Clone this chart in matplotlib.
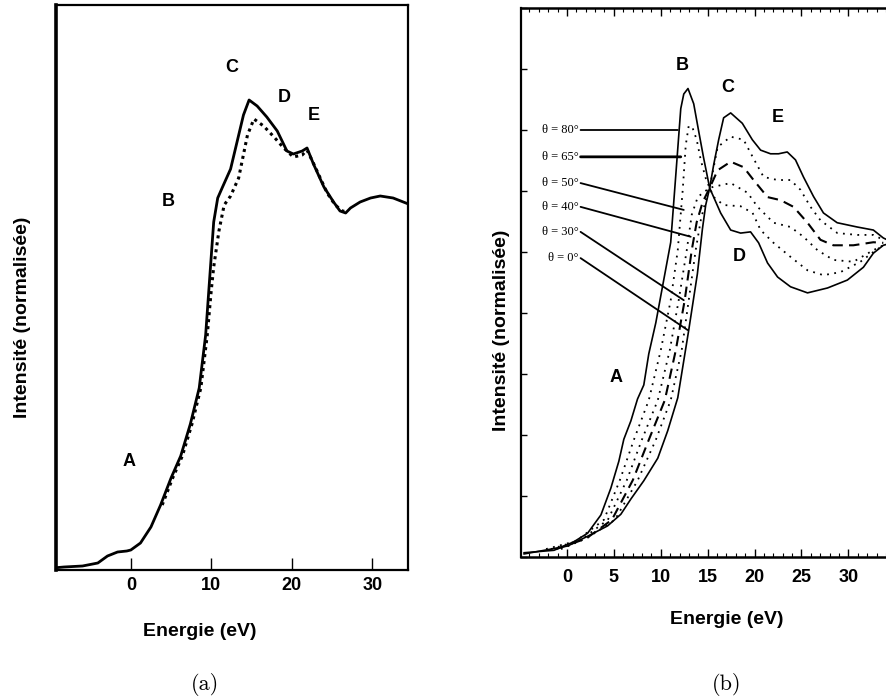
import matplotlib.pyplot as plt
from matplotlib.ticker import MultipleLocator

# ---- data ----
# panel (a): two spectra (solid and dotted), energy in eV, intensity in arbitrary units
a_solid_e = [-9.0, -8.3, -6.0, -4.1, -2.9, -1.65, -0.5, 0.0, 1.2, 2.5, 3.7, 5.0, 6.2, 7.4,
             8.5, 9.3, 9.9, 10.3, 10.8, 11.4, 12.4, 13.2, 14.0, 14.7, 15.7, 16.9, 18.2,
             19.4, 20.2, 21.3, 21.9, 22.7, 24.0, 25.2, 26.0, 26.7, 27.3, 28.5, 29.8, 31.0,
             32.6, 34.5]
a_solid_i = [0.025, 0.03, 0.04, 0.07, 0.14, 0.18, 0.19, 0.20, 0.27, 0.43, 0.65, 0.92, 1.14,
             1.46, 1.82, 2.35, 3.03, 3.48, 3.72, 3.83, 4.01, 4.28, 4.55, 4.70, 4.64, 4.53,
             4.39, 4.19, 4.16, 4.19, 4.22, 4.06, 3.83, 3.68, 3.59, 3.57, 3.62, 3.68, 3.72,
             3.74, 3.72, 3.66]
a_dot_e = [3.9, 5.2, 6.4, 7.6, 8.7, 9.5, 10.0, 10.3, 10.95, 11.6, 12.4, 13.4, 14.5, 15.3,
           16.5, 17.8, 19.0, 20.2, 21.3, 21.9, 22.8, 24.4, 25.4, 26.3, 27.0]
a_dot_i = [0.65, 0.92, 1.14, 1.46, 1.82, 2.35, 2.80, 3.03, 3.39, 3.65, 3.74, 3.92, 4.35, 4.51,
           4.44, 4.33, 4.22, 4.13, 4.15, 4.20, 4.05, 3.77, 3.65, 3.59, 3.58]
a_ticks = [0, 10, 20, 30]
a_peaks = ['A', 'B', 'C', 'D', 'E']
a_peak_e = [-0.25, 4.6, 12.6, 19.1, 22.7]
a_peak_i = [1.09, 3.68, 5.02, 4.73, 4.55]

# panel (b): angular series theta = 80, 65, 50, 40, 30, 0 degrees
b_80_e = [-4.57, -1.38, 0.74, 2.2, 3.62, 4.68, 5.53, 6.06, 6.81, 7.52, 8.19, 8.72, 9.47, 10.18,
          11.06, 11.6, 12.13, 12.45, 12.9, 13.51, 14.04, 14.57, 15.21, 16.38, 17.45, 18.51,
          19.57, 20.43, 21.38, 22.45, 23.83, 25.64, 27.77, 29.89, 31.6, 32.66, 33.72, 34.68]
b_80_i = [0.07, 0.11, 0.25, 0.39, 0.69, 1.13, 1.57, 1.93, 2.23, 2.59, 2.82, 3.33, 3.84, 4.43,
          5.16, 6.26, 7.35, 7.59, 7.68, 7.43, 6.98, 6.54, 6.05, 5.64, 5.36, 5.31, 5.33, 5.15,
          4.82, 4.59, 4.43, 4.33, 4.41, 4.54, 4.75, 4.98, 5.11, 5.15]
b_65_e = [-2.23, 0.96, 3.94, 5.64, 7.13, 8.72, 10.0, 11.06, 11.81, 12.34, 12.66, 12.98, 13.4,
          13.83, 14.26, 14.79, 15.21, 15.64, 16.7, 18.51, 19.79, 20.64, 22.02, 23.83, 25.64,
          27.34, 29.15, 31.28, 32.66, 33.72]
b_65_i = [0.13, 0.26, 0.61, 1.26, 1.92, 2.57, 3.39, 4.21, 5.03, 6.02, 6.75, 7.07, 7.03, 6.84,
          6.51, 6.21, 6.05, 5.90, 5.77, 5.75, 5.64, 5.36, 5.15, 4.92, 4.70, 4.62, 4.67, 4.84,
          5.0, 5.11]
b_50_e = [-1.7, 1.49, 4.36, 6.38, 7.98, 9.68, 10.96, 11.91, 12.77, 13.3, 13.94, 14.57, 15.21,
          15.64, 17.45, 19.26, 20.32, 22.02, 23.83, 25.21, 26.7, 28.4, 30.53, 32.66, 33.72]
b_50_i = [0.13, 0.28, 0.61, 1.26, 1.92, 2.57, 3.39, 4.21, 5.03, 5.61, 5.90, 5.98, 6.05, 6.07,
          6.13, 5.97, 5.74, 5.48, 5.41, 5.25, 5.03, 4.87, 4.84, 5.03, 5.11]
b_40_e = [-1.17, 2.02, 4.79, 7.02, 8.72, 10.43, 11.6, 12.55, 13.3, 13.83, 14.47, 15.21, 16.06,
          17.45, 18.83, 19.89, 21.38, 22.77, 24.15, 25.64, 27.02, 28.4, 30.53, 32.66, 33.72]
b_40_i = [0.13, 0.30, 0.61, 1.26, 1.92, 2.57, 3.39, 4.21, 5.03, 5.49, 5.82, 6.05, 6.34, 6.48,
          6.39, 6.18, 5.90, 5.85, 5.74, 5.48, 5.20, 5.11, 5.11, 5.16, 5.15]
b_30_e = [-0.64, 2.13, 5.11, 7.55, 9.47, 11.06, 12.23, 12.98, 13.72, 14.26, 14.79, 15.21,
          16.06, 17.45, 18.83, 19.79, 20.96, 22.45, 23.83, 24.89, 25.96, 27.02, 28.83, 30.96,
          32.66, 33.72]
b_30_i = [0.13, 0.31, 0.61, 1.26, 1.92, 2.57, 3.39, 4.21, 5.03, 5.52, 5.85, 6.05, 6.72, 6.89,
          6.84, 6.56, 6.23, 6.18, 6.18, 6.02, 5.74, 5.52, 5.31, 5.28, 5.28, 5.20]
b_0_e = [-4.57, -2.77, 0.07, 2.2, 4.33, 5.74, 6.81, 8.19, 9.68, 10.74, 11.81, 12.98, 13.9,
         14.44, 14.79, 15.21, 15.64, 16.17, 16.7, 17.45, 18.69, 19.76, 20.64, 21.7, 22.55,
         23.48, 24.36, 25.21, 26.28, 27.34, 28.8, 30.93, 32.66, 33.72, 34.68]
b_0_i = [0.05, 0.10, 0.18, 0.34, 0.51, 0.70, 0.95, 1.25, 1.62, 2.07, 2.61, 3.72, 4.64, 5.38,
         5.77, 6.05, 6.43, 6.84, 7.2, 7.28, 7.11, 6.84, 6.67, 6.61, 6.61, 6.64, 6.51, 6.23,
         5.91, 5.64, 5.48, 5.41, 5.36, 5.23, 5.16]
b_angles = ['80', '65', '50', '40', '30', '0']
b_label_i = [7.0, 6.56, 6.13, 5.74, 5.33, 4.90]
b_point_e = [11.81, 12.13, 12.45, 13.19, 12.45, 12.87]
b_point_i = [7.0, 6.56, 5.69, 5.25, 4.21, 3.72]
b_ticks = [0, 5, 10, 15, 20, 25, 30]
b_peaks = ['A', 'B', 'C', 'D', 'E']
b_peak_e = [5.2, 12.3, 17.1, 18.4, 22.5]
b_peak_i = [2.95, 8.05, 7.7, 4.92, 7.21]

W, H = 887, 700
SANS = 'Liberation Sans'


def px_axes(fig, left, top, right, bottom):
    return fig.add_axes([left / W, 1 - bottom / H, (right - left) / W, (bottom - top) / H])


fig = plt.figure(figsize=(W / 100, H / 100), dpi=100)

# ---------------- panel (a) ----------------
ax = px_axes(fig, 56, 5, 408, 570)
ax.plot(a_solid_e, a_solid_i, color='black', lw=2.0, solid_joinstyle='round')
ax.plot(a_dot_e, a_dot_i, color='black', lw=2.2, linestyle=(0, (1, 1.3)))
ax.set_xlim(-9.3, 34.45)
ax.set_ylim(0, 5.65)
ax.set_xticks(a_ticks)
ax.set_yticks([])
ax.tick_params(axis='x', direction='in', length=9, width=1, pad=5, labelsize=13)
for lab in ax.get_xticklabels():
    lab.set_fontfamily(SANS)
    lab.set_fontweight('bold')
for side in ['top', 'right', 'bottom']:
    ax.spines[side].set_linewidth(1.6)
ax.spines['left'].set_linewidth(2.6)
for name, e, i in zip(a_peaks, a_peak_e, a_peak_i):
    ax.text(e, i, name, fontsize=13, fontweight='bold', family=SANS, ha='center', va='center')

# ---------------- panel (b) ----------------
bx = px_axes(fig, 521, 8, 900, 557)
bx.plot(b_80_e, b_80_i, color='black', lw=1.2)
bx.plot(b_0_e, b_0_i, color='black', lw=1.2)
bx.plot(b_65_e, b_65_i, color='black', lw=1.3, linestyle=(0, (1, 3)))
bx.plot(b_50_e, b_50_i, color='black', lw=1.3, linestyle=(0, (1, 3)))
bx.plot(b_40_e, b_40_i, color='black', lw=1.5, linestyle=(0, (5, 3)))
bx.plot(b_30_e, b_30_i, color='black', lw=1.3, linestyle=(0, (1, 3)))
bx.set_xlim(-4.9, 35.5)
bx.set_ylim(0, 9.0)
bx.set_xticks(b_ticks)
bx.xaxis.set_minor_locator(MultipleLocator(1))
bx.yaxis.set_major_locator(MultipleLocator(1))
bx.set_yticklabels([])
bx.tick_params(axis='x', which='major', direction='in', length=6, width=1, pad=9,
               labelsize=13, top=True)
bx.tick_params(axis='x', which='minor', direction='in', length=3, width=0.8, top=True)
bx.tick_params(axis='y', which='major', direction='in', length=4, width=1)
for lab in bx.get_xticklabels():
    lab.set_fontfamily(SANS)
    lab.set_fontweight('bold')
for side in ['top', 'bottom']:
    bx.spines[side].set_linewidth(1.8)
bx.spines['left'].set_linewidth(1.6)

for ang, li, pe, pi in zip(b_angles, b_label_i, b_point_e, b_point_i):
    lw = 2.0 if ang == '65' else 1.3
    bx.annotate('', xy=(pe, pi), xytext=(1.45, li),
                arrowprops=dict(arrowstyle='-', color='black', lw=lw, shrinkA=0, shrinkB=0))
    bx.text(1.25, li, '\u03b8 = ' + ang + '\u00b0', fontsize=9, family='Liberation Serif',
            ha='right', va='center')

for name, e, i in zip(b_peaks, b_peak_e, b_peak_i):
    bx.text(e, i, name, fontsize=13, fontweight='bold', family=SANS, ha='center', va='center')

# ---------------- labels and captions ----------------
fig.text(200 / W, 1 - 632 / H, 'Energie (eV)', fontsize=14, fontweight='bold', family=SANS,
         ha='center', va='center')
fig.text(727 / W, 1 - 620 / H, 'Energie (eV)', fontsize=14, fontweight='bold', family=SANS,
         ha='center', va='center')
fig.text(23 / W, 1 - 317 / H, 'Intensité (normalisée)', fontsize=14, fontweight='bold',
         family=SANS, rotation=90, ha='center', va='center')
fig.text(502 / W, 1 - 330 / H, 'Intensité (normalisée)', fontsize=14, fontweight='bold',
         family=SANS, rotation=90, ha='center', va='center')
fig.text(205 / W, 1 - 685 / H, '(a)', fontsize=16, family=['cmr10', 'DejaVu Serif'],
         ha='center', va='center')
fig.text(727 / W, 1 - 685 / H, '(b)', fontsize=16, family=['cmr10', 'DejaVu Serif'],
         ha='center', va='center')

fig.savefig('out.png', dpi=100)
